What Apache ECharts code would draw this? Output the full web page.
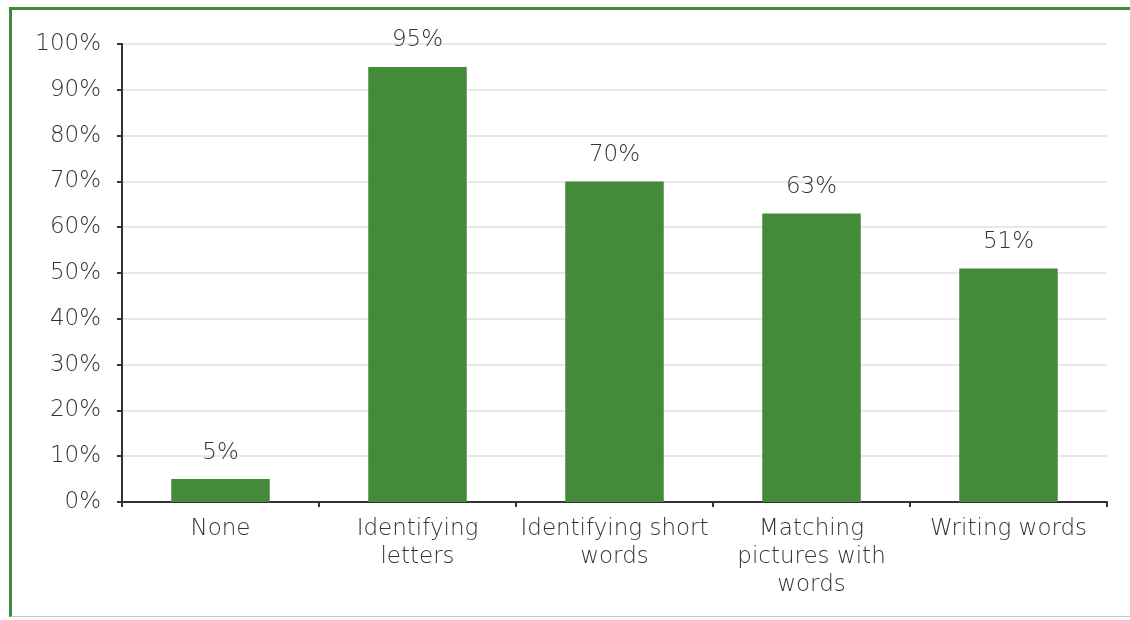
<!DOCTYPE html>
<html>
<head>
<meta charset="utf-8">
<script src="https://cdn.jsdelivr.net/npm/echarts@6/dist/echarts.min.js"></script>
<style>
  html, body { margin: 0; padding: 0; background: #fff; }
  #frame {
    position: absolute; left: 9px; top: 7px; width: 1121px; height: 610px;
    border-top: 3px solid #3f8a3d; border-left: 3px solid #3f8a3d;
    border-bottom: 1px solid #c8c8c8; box-sizing: border-box;
  }
  #chart { position: absolute; left: 0; top: 0; width: 1130px; height: 620px; }
</style>
</head>
<body>
<div id="frame"></div>
<div id="chart"></div>
<script>
// Skills categories (line breaks as shown under the axis)
const categories = ['None', 'Identifying\nletters', 'Identifying short\nwords', 'Matching\npictures with\nwords', 'Writing words'];
// Share of respondents, percent
const values = [5, 95, 70, 63, 51];
// Value axis range and step
const yMin = 0, yMax = 100, yStep = 10;

const FONT = 'DejaVu Sans';
const WEIGHT = 200;
const SIZE = 23;
const TEXT = '#333333';

const chart = echarts.init(document.getElementById('chart'), null, { renderer: 'canvas' });
chart.setOption({
  animation: false,
  grid: { left: 122, right: 23, top: 44, bottom: 118, containLabel: false },
  xAxis: {
    type: 'category',
    data: categories,
    axisLine: { show: true, lineStyle: { color: '#333', width: 2 } },
    axisTick: { show: true, alignWithLabel: false, length: 5, lineStyle: { color: '#333', width: 2 } },
    axisLabel: { color: TEXT, fontFamily: FONT, fontWeight: WEIGHT, fontSize: SIZE, margin: 13, lineHeight: 28, interval: 0 }
  },
  yAxis: {
    type: 'value',
    min: yMin, max: yMax, interval: yStep,
    axisLine: { show: true, lineStyle: { color: '#333', width: 2 } },
    axisTick: { show: true, length: 5, lineStyle: { color: '#333', width: 2 } },
    axisLabel: { color: TEXT, fontFamily: FONT, fontWeight: WEIGHT, fontSize: SIZE, margin: 21, formatter: '{value}%' },
    splitLine: { show: true, lineStyle: { color: '#e8e8e8', width: 2 } }
  },
  series: [{
    type: 'bar',
    data: values,
    barWidth: '50%',
    itemStyle: { color: '#448a3a' },
    label: {
      show: true, position: 'top', distance: 15,
      color: TEXT, fontFamily: FONT, fontWeight: WEIGHT, fontSize: SIZE,
      formatter: p => p.value + '%'
    }
  }]
});
</script>
</body>
</html>
